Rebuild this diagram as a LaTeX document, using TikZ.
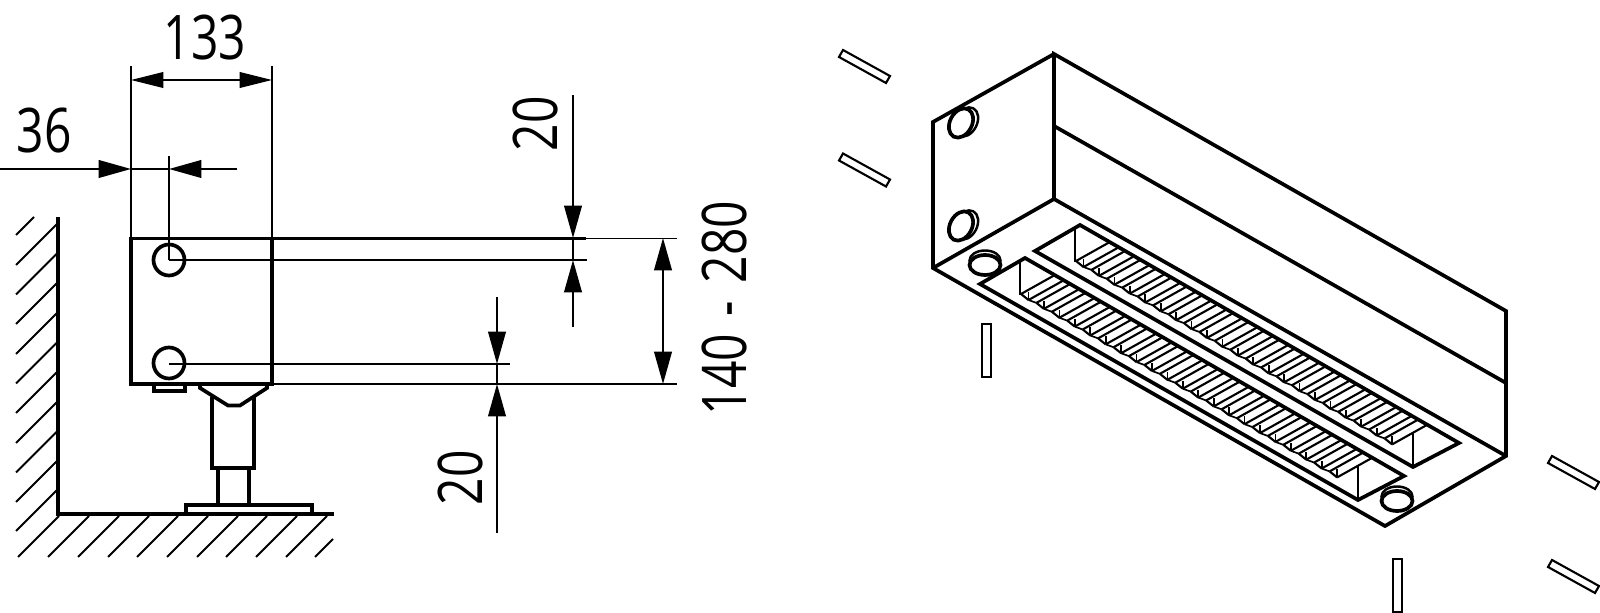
\documentclass[tikz,border=0pt]{standalone}
\usepackage{fontspec}
\usetikzlibrary{arrows.meta}
\newfontfamily\dimfont[FakeStretch=0.78]{Open Sans}

\begin{document}
\begin{tikzpicture}[x=0.01cm, y=-0.01cm,
		heavy/.style={line width=1.05pt},
		medium/.style={line width=0.7pt},
		fine/.style={line width=0.48pt},
		fin/.style={line width=0.6pt},
		dim/.style={line width=0.6pt, {Triangle[length=9.2pt,width=4.4pt]}-{Triangle[length=9.2pt,width=4.4pt]}},
		dimend/.style={line width=0.6pt, -{Triangle[length=9.2pt,width=5pt]}},
		dimrange/.style={line width=0.6pt, {Triangle[length=9.2pt,width=5pt]}-{Triangle[length=9.2pt,width=5pt]}},
		hatch/.style={line width=0.55pt},
		tick/.style={line width=0.6pt},
		label/.style={font=\dimfont\fontsize{17.5}{20}\selectfont, inner sep=0pt}]
	\useasboundingbox (0, 0) rectangle (1600, 613);
	
	% wall and floor
	\draw[heavy] (58, 217) -- (58, 514) -- (334, 514);
	\draw[hatch] (16, 235) -- (34, 217);
	\foreach \y in {265, 294.5, 324, 354, 383.5, 413, 443, 472.5, 502, 531}
		\draw[hatch] (16, \y) -- (57, \y-41);
	\foreach \x in {18, 48, 78, 108, 137, 167, 197, 226, 256, 286}
		\draw[hatch] (\x, 557) -- (\x+41, 516);
	\draw[hatch] (315, 557) -- (333, 539);
	
	% front view
	\coordinate (topleft) at (131, 238.5);
	\coordinate (topright) at (272, 238.5);
	\coordinate (bottomleft) at (131, 384);
	\coordinate (bottomright) at (272, 384);
	\draw[heavy] (topleft) rectangle (bottomright);
	\draw[heavy] (169, 260) circle (15.5);
	\draw[heavy] (169, 363) circle (15.5);
	\draw[heavy] (154, 384) -- (154, 391) -- (185, 391) -- (185, 384);
	
	% foot
	\draw[heavy] (200, 384) -- (200, 388) -- (228, 405.5) -- (240, 405.5) -- (267, 388) -- (267, 384);
	\draw[heavy] (212, 397) -- (212, 468) -- (254, 468) -- (254, 397);
	\draw[heavy] (218, 468) -- (218, 505);
	\draw[heavy] (249, 468) -- (249, 505);
	\draw[heavy] (186, 514) -- (186, 505) -- (312, 505) -- (312, 514);
	
	% dimension lines
	\draw[fine] (topleft) -- (131, 66);
	\draw[fine] (topright) -- (272, 66);
	\draw[dim] (131, 80) -- (272, 80);
	\node[label] (widthlabel) at (205, 38) {133};
	
	\draw[fine] (169, 260) -- (169, 156);
	\draw[dimend] (0, 169) -- (131, 169);
	\draw[dimend] (237, 169) -- (169, 169);
	\draw[medium] (131, 169) -- (169, 169);
	\node[label] (offsetlabel) at (44, 131) {36};
	
	\draw[medium] (topright) -- (586, 238.5);
	\draw[fine] (586, 238.5) -- (677, 238.5);
	\draw[fine] (169, 260) -- (587, 260);
	\draw[medium] (169, 364) -- (510, 364);
	\draw[fine] (bottomright) -- (677, 384);
	
	\draw[dimend] (573, 95) -- (573, 238);
	\draw[dimend] (573, 327) -- (573, 260);
	\draw[medium] (573, 238) -- (573, 260);
	\node[label, rotate=90] (upperlabel) at (535, 124) {20};
	
	\draw[dimend] (497, 297) -- (497, 364);
	\draw[dimend] (497, 533) -- (497, 384);
	\draw[medium] (497, 364) -- (497, 384);
	\node[label, rotate=90] (lowerlabel) at (460, 478) {20};
	
	\draw[dimrange] (663, 238) -- (663, 384);
	\node[label, rotate=90] (rangelabel) at (724, 308.5) {140\hspace{1.4pt} - \hspace{1.4pt}280};
	
	% ticks
	\foreach \dx/\dy in {0/0, 0/103.5, 709/406, 709/510}
		\draw[tick] (843+\dx, 50+\dy) -- (890+\dx, 76+\dy) -- (886+\dx, 83+\dy) -- (839+\dx, 57+\dy) -- cycle;
	\draw[tick] (982, 324) rectangle (991, 377);
	\draw[tick] (1393, 559) rectangle (1402, 612);
	
	% housing
	\coordinate (A) at (1054, 54);
	\coordinate (B) at (933, 122);
	\coordinate (C) at (933, 268);
	\coordinate (D) at (1054, 199);
	\coordinate (E) at (1054, 126);
	\coordinate (F) at (1506, 311);
	\coordinate (G) at (1506, 383);
	\coordinate (H) at (1506, 456);
	\coordinate (K) at (1385, 526);
	\draw[heavy] (A) -- (B) -- (C) -- (K) -- (H) -- (F) -- (A) -- (D) -- (C);
	\draw[heavy] (D) -- (H);
	\draw[heavy] (E) -- (G);
	
	% slots with fins
	\foreach \sx/\sy in {0/0, -55/33} {
		\begin{scope}[shift={(\sx, \sy)}]
			\draw[heavy] (1080, 225) -- (1459, 443) -- (1413, 467) -- (1035, 251) -- cycle;
			\draw[fine] (1075, 229) -- (1075, 262);
			\draw[medium] (1413, 433) -- (1413, 467);
			\foreach \i in {0, ..., 20} {
				\begin{scope}[shift={(15.43*\i, 8.87*\i)}]
					\draw[fin] (1076, 261) -- (1083.5, 267);
					\draw[fine] (1083.5, 267) -- (1083.5, 259);
					\draw[fin] (1076, 261) -- ++(33, -18.5);
					\draw[fin] (1083.5, 267) -- ++(34, -19);
				\end{scope}
			}
			\foreach \i in {0, ..., 19} {
				\draw[fine, shift={(15.43*\i, 8.87*\i)}] (1083.5, 267) -- (1091.4, 269.9);
			}
		\end{scope}
	}
	
	% connection stubs
	\foreach \y in {123, 226} {
		\draw[medium] (966, \y-1) ellipse [x radius=15.5, y radius=11, rotate=62];
		\draw[heavy, fill=white] (961, \y) ellipse [x radius=15.5, y radius=11, rotate=62];
	}
	\foreach \x/\y in {985/265, 1397/501} {
		\draw[medium] (\x, \y-4.5) ellipse [x radius=15.5, y radius=10];
		\draw[heavy, fill=white] (\x, \y) ellipse [x radius=15.5, y radius=10];
	}
\end{tikzpicture}
\end{document}
